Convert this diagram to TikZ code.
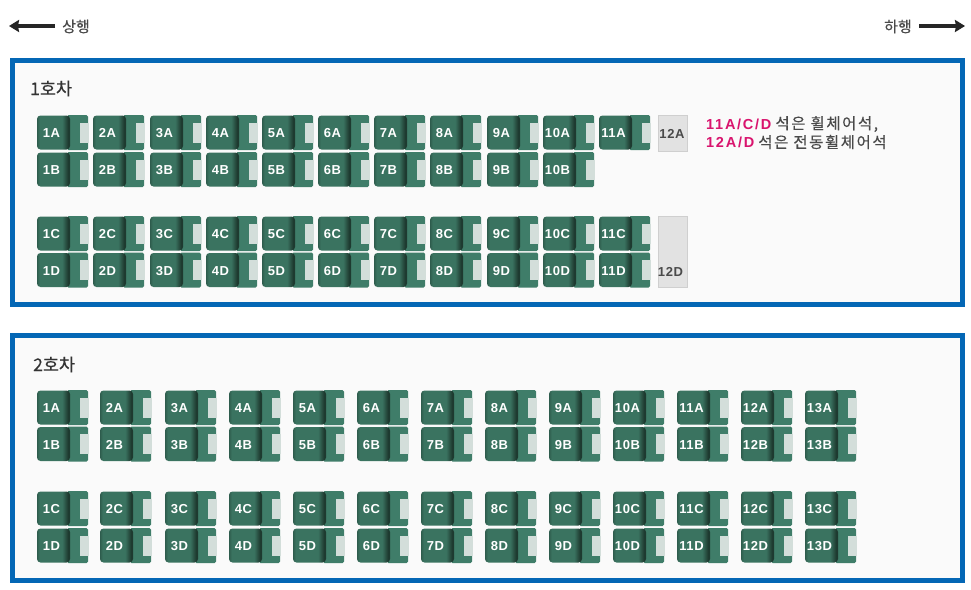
\documentclass[tikz,border=0pt]{standalone}
\usepackage{fontspec}
\setmainfont{Liberation Sans}
\newfontfamily\krfont[FakeBold=0.35]{Noto Sans CJK KR}
\newfontfamily\krnote[FakeBold=0.25,LetterSpace=10]{Noto Sans CJK KR}
\newfontfamily\latnote[LetterSpace=12]{Liberation Sans}
\newfontfamily\seatfont[LetterSpace=5]{Liberation Sans}
\usetikzlibrary{arrows.meta,shadings}
\definecolor{frameblue}{HTML}{0467B5}
\definecolor{panelbg}{HTML}{FAFAFA}
\definecolor{seatback}{HTML}{3F7D69}
\definecolor{seatmain}{HTML}{3A7360}
\definecolor{seatdark}{HTML}{1E3A30}
\definecolor{seatnotch}{HTML}{D3DEDA}
\definecolor{graybox}{HTML}{E2E2E2}
\definecolor{grayedge}{HTML}{CFCFCF}
\definecolor{pinktext}{HTML}{D9146E}
\definecolor{graytext}{HTML}{4A4A4A}
\pgfdeclarehorizontalshading{seatshade}{100bp}{
  color(0bp)=(seatmain!80!black);
  color(25bp)=(seatmain!80!black);
  color(29bp)=(seatmain);
  color(63bp)=(seatmain);
  color(72bp)=(seatdark);
  color(100bp)=(seatdark)}
\tikzset{
  panel/.style={draw=frameblue,line width=4.6pt,fill=panelbg,inner sep=0pt},
  seatlabel/.style={font=\seatfont\bfseries\fontsize{13}{14}\selectfont,text=white,inner sep=0pt,anchor=center,text height=9.5pt,text depth=0pt},
  emptyseat/.style={draw=grayedge,fill=graybox,line width=0.8pt,inner sep=0pt},
  emptylabel/.style={font=\seatfont\bfseries\fontsize{13}{14}\selectfont,text=graytext,inner sep=0pt,text height=9.5pt,text depth=0pt},
  cartitle/.style={font=\krfont\fontsize{17.5}{18}\selectfont,text=black!80,inner sep=0pt,anchor=west},
  dirlabel/.style={font=\krfont\fontsize{15}{16}\selectfont,text=graytext,inner sep=0pt},
  dirarrow/.style={line width=3.4pt,draw=black!85,-{Stealth[length=10pt,width=12pt,inset=1pt]}},
  notetext/.style={font=\fontsize{15.5}{17}\selectfont,inner sep=0pt,anchor=west,text=graytext}
}
% #1 left, #2 top, #3 node name, #4 label
\newcommand{\seatpic}[4]{%
  \fill[seatback,rounded corners=1.5pt] (#1+30,#2) rectangle (#1+51,#2+35);
  \fill[seatnotch] (#1+43,#2+7.5) rectangle (#1+51.5,#2+27.5);
  \shade[shading=seatshade,rounded corners=3.5pt]
    (#1,#2+0.5) rectangle (#1+33,#2+34.5);
  \node[seatlabel] (#3) at (#1+14.5,#2+18) {#4};
}
\begin{document}
\begin{tikzpicture}[x=1pt,y=-1pt]
\useasboundingbox (0,0) rectangle (971,589);
\fill[white] (0,0) rectangle (971,589);
% direction labels
\node[dirlabel] (up) at (76,26.5) {상행};
\node[dirlabel] (down) at (898,26.5) {하행};
\coordinate (upstart) at (55,26);
\coordinate (upend) at (9,26);
\coordinate (downstart) at (919,26);
\coordinate (downend) at (965,26);
\draw[dirarrow] (upstart) -- (upend);
\draw[dirarrow] (downstart) -- (downend);
% panels
\node[panel,minimum width=950pt,minimum height=244.5pt] (car1) at (487.5,182.5) {};
\node[panel,minimum width=950pt,minimum height=244.5pt] (car2) at (487.5,458) {};
\node[cartitle] (t1) at (30,88.5) {1호차};
\node[cartitle] (t2) at (33,364.5) {2호차};
% car 1
\foreach \n/\x in {1/37,2/93,3/150,4/206,5/262,6/318,7/374,8/430,9/487,10/543}{
  \seatpic{\x}{115}{a\n A}{\n A}
  \seatpic{\x}{152}{a\n B}{\n B}
  \seatpic{\x}{216}{a\n C}{\n C}
  \seatpic{\x}{252.5}{a\n D}{\n D}
}
\seatpic{599}{115}{a11A}{11A}
\seatpic{599}{216}{a11C}{11C}
\seatpic{599}{252.5}{a11D}{11D}
\node[emptyseat,minimum width=29pt,minimum height=35.5pt] (e12A) at (672.5,133.5) {};
\node[emptylabel] (l12A) at (672,134) {12A};
\node[emptyseat,minimum width=29pt,minimum height=70.5pt] (e12D) at (672.5,252) {};
\node[emptylabel] (l12D) at (670.5,271.5) {12D};
\node[notetext,font=\fontsize{14.5}{16}\selectfont] (n1) at (706,124) {\textcolor{pinktext}{\latnote\bfseries 11A/C/D}\ \krnote\fontsize{15.5}{17}\selectfont 석은 휠체어석,};
\node[notetext,font=\fontsize{14.5}{16}\selectfont] (n2) at (706,142) {\textcolor{pinktext}{\latnote\bfseries 12A/D}\ \krnote\fontsize{15.5}{17}\selectfont 석은 전동휠체어석};
% car 2
\foreach \n/\x in {1/37,2/100,3/165,4/229,5/293,6/357,7/421,8/485,9/549,10/613,11/677,12/741,13/805}{
  \seatpic{\x}{390}{b\n A}{\n A}
  \seatpic{\x}{426.5}{b\n B}{\n B}
  \seatpic{\x}{491}{b\n C}{\n C}
  \seatpic{\x}{528}{b\n D}{\n D}
}
\end{tikzpicture}
\end{document}
